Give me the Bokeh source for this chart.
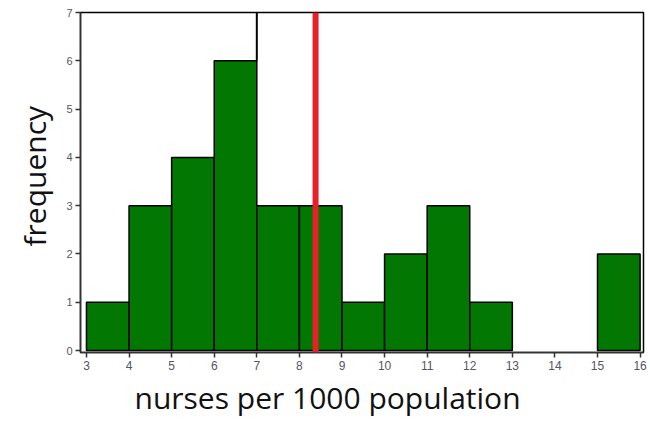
from bokeh.plotting import figure
from bokeh.models import Span, FixedTicker, Title
from bokeh.embed import file_html
from bokeh.resources import INLINE

# Data
bin_left = [3, 4, 5, 6, 7, 8, 9, 10, 11, 12, 13, 14, 15]
bin_right = [4, 5, 6, 7, 8, 9, 10, 11, 12, 13, 14, 15, 16]
counts = [1, 3, 4, 6, 3, 3, 1, 2, 3, 1, 0, 0, 2]
mean_value = 8.38
x_ticks = list(range(3, 17))
y_ticks = list(range(0, 8))
y_max = 7
x_title = "nurses per 1000 population"
y_title = "frequency"

p = figure(width=648, height=420, output_backend="svg", toolbar_location=None,
           x_range=(2.86, 16.08), y_range=(-0.04, y_max),
           min_border_left=80, min_border_right=5, min_border_top=12, min_border_bottom=68)

bl = [l for l, c in zip(bin_left, counts) if c > 0]
br = [r for r, c in zip(bin_right, counts) if c > 0]
bc = [c for c in counts if c > 0]
p.quad(left=bl, right=br, bottom=0, top=bc, fill_color="#027802",
       line_color="black", line_width=1.5)

# stray black edge line above tallest bar
imax = counts.index(max(counts))
p.segment(x0=[bin_right[imax]], y0=[counts[imax]], x1=[bin_right[imax]], y1=[y_max],
          line_color="black", line_width=2)

p.add_layout(Span(location=mean_value, dimension="height", line_color="#e8202a", line_width=6))

p.xgrid.visible = False
p.ygrid.visible = False
p.outline_line_color = "black"
p.outline_line_width = 1.5
p.background_fill_color = "white"
p.border_fill_color = "white"

for ax in (p.xaxis[0], p.yaxis[0]):
    ax.minor_tick_line_color = None
    ax.major_tick_in = 0
    ax.major_tick_out = 5
    ax.axis_line_color = "#333333"
    ax.axis_line_width = 1.5
    ax.major_tick_line_color = "#333333"
    ax.major_tick_line_width = 1.5
    ax.major_label_text_color = "#555566"
    ax.major_label_text_font = "Liberation Sans"

p.xaxis.ticker = FixedTicker(ticks=x_ticks)
p.yaxis.ticker = FixedTicker(ticks=y_ticks)
p.xaxis.major_label_text_font_size = "12px"
p.yaxis.major_label_text_font_size = "11px"
p.xaxis.major_label_standoff = 3
p.yaxis.major_label_standoff = 3

p.add_layout(Title(text=x_title, align="left", offset=54, standoff=4,
                   text_font="Open Sans", text_font_size="30px", text_font_style="normal",
                   text_color="#111111"), "below")
p.add_layout(Title(text=y_title, align="left", offset=106, standoff=17,
                   text_font="Open Sans", text_font_size="30px", text_font_style="normal",
                   text_color="#111111"), "left")

open("out.html", "w").write(file_html(p, INLINE))
